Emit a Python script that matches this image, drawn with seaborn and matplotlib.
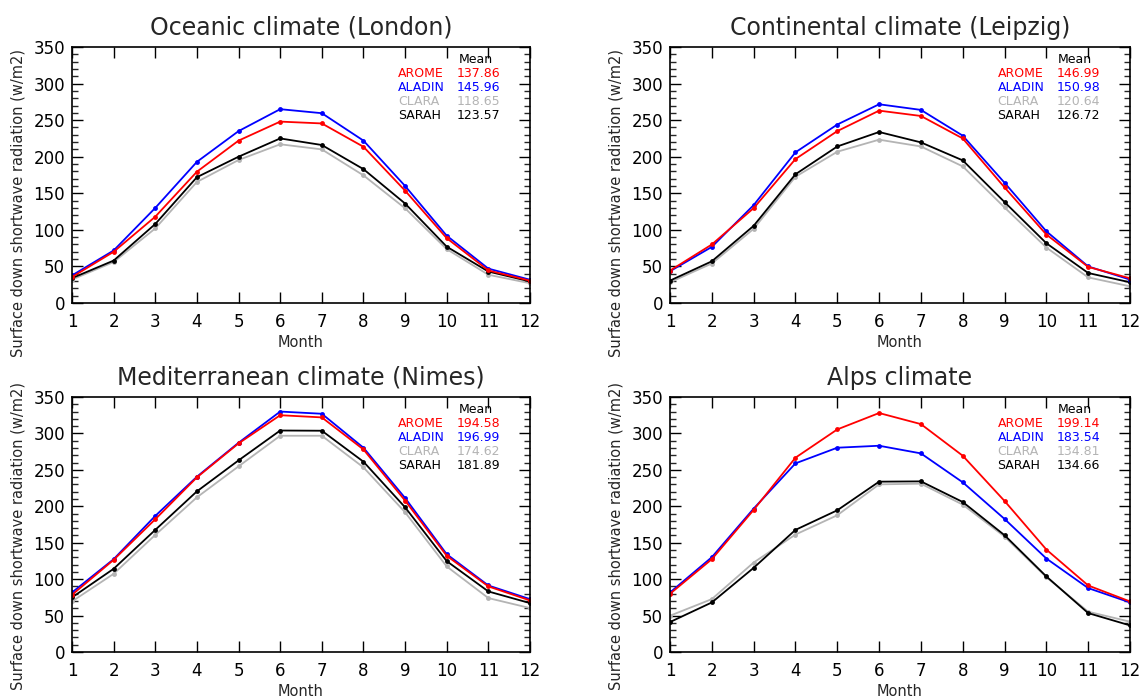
import numpy as np
import pandas as pd
import matplotlib
matplotlib.use("Agg")
import matplotlib.pyplot as plt
import seaborn as sns

months = list(range(1, 13))
models = ["AROME", "ALADIN", "CLARA", "SARAH"]
titles = ["Oceanic climate (London)", "Continental climate (Leipzig)",
          "Mediterranean climate (Nimes)", "Alps climate"]

london_arome = [35.5, 70, 118, 179.5, 222, 248, 245.5, 213.6, 153.6, 88.6, 44.5, 30.5]
london_aladin = [37.7, 71.8, 130, 193, 235, 265, 259.5, 222, 160, 92, 47, 31.8]
london_clara = [32, 56, 102, 165.5, 195.5, 217, 210, 174.5, 129.5, 73.6, 38.6, 27]
london_sarah = [34, 58, 108, 172, 200, 225, 216, 183, 136, 77, 43, 29.5]

leipzig_arome = [44.3, 80, 129.7, 196.8, 235, 263, 255.7, 225, 158, 93.6, 49.3, 33.8]
leipzig_aladin = [43.4, 76.7, 133.8, 206, 244, 271.7, 264, 228.8, 164.4, 98, 50, 32]
leipzig_clara = [28.3, 54, 101.4, 172.6, 206.8, 223.3, 214, 186.8, 130.6, 75.8, 35, 22.8]
leipzig_sarah = [30.6, 57, 105.5, 176, 214, 233.8, 219.6, 195, 138, 81.7, 41, 28.3]

nimes_arome = [78.5, 126.5, 182.2, 239.7, 286.3, 325, 322, 278, 207.8, 132, 90, 70.8]
nimes_aladin = [81.7, 127.4, 186.8, 240.6, 287.2, 330, 327, 280.4, 211.4, 134.2, 91.3, 72.6]
nimes_clara = [69.4, 107.3, 160.7, 212.3, 254.8, 296.8, 296.8, 253.4, 191.8, 117.4, 74, 60.3]
nimes_sarah = [74.9, 114.2, 167.6, 220.5, 263, 304, 303.7, 261.2, 198.6, 124.7, 83.1, 67.1]

alps_arome = [79.9, 127.4, 195, 266.7, 305.5, 328, 312.8, 269.4, 207.3, 140.6, 91.3, 69.4]
alps_aladin = [81.7, 130.1, 196.8, 258.9, 280.4, 283.1, 272.6, 232.9, 182.6, 128.3, 87.7, 68]
alps_clara = [49.8, 72.6, 122.8, 161.2, 187.7, 230.1, 231, 202.3, 158.4, 102.7, 55.3, 41.6]
alps_sarah = [41.1, 68, 115.5, 167.6, 194.5, 233.8, 234.2, 205.9, 160.3, 103.7, 53.4, 36.5]

mean_london = ["137.86", "145.96", "118.65", "123.57"]
mean_leipzig = ["146.99", "150.98", "120.64", "126.72"]
mean_nimes = ["194.58", "196.99", "174.62", "181.89"]
mean_alps = ["199.14", "183.54", "134.81", "134.66"]

panels = [
    [london_arome, london_aladin, london_clara, london_sarah],
    [leipzig_arome, leipzig_aladin, leipzig_clara, leipzig_sarah],
    [nimes_arome, nimes_aladin, nimes_clara, nimes_sarah],
    [alps_arome, alps_aladin, alps_clara, alps_sarah],
]
means = [mean_london, mean_leipzig, mean_nimes, mean_alps]

colors = {"AROME": "#ff0000", "ALADIN": "#0000ff", "CLARA": "#b4b4b4", "SARAH": "#000000"}
draw_order = ["CLARA", "SARAH", "ALADIN", "AROME"]

sns.set_style("ticks")
plt.rcParams["font.family"] = ["DejaVu Sans"]

fig = plt.figure(figsize=(11.41, 6.99), dpi=100)
W, H = 1141, 699
boxes = [(72, 47, 530, 303), (670, 47, 1130, 303),
         (72, 397, 530, 652), (670, 397, 1130, 652)]
label_y = [0.39, 0.39, 0.455, 0.455]

for i, (l, t, r, b) in enumerate(boxes):
    ax = fig.add_axes([l / W, 1 - b / H, (r - l) / W, (b - t) / H])
    rows = []
    for m, vals in zip(models, panels[i]):
        for mo, v in zip(months, vals):
            rows.append({"Month": mo, "value": v, "model": m})
    df = pd.DataFrame(rows)
    sns.lineplot(data=df, x="Month", y="value", hue="model", hue_order=draw_order,
                 palette=colors, marker="o", markersize=3.5, markeredgewidth=0,
                 linewidth=1.3, legend=False, ax=ax)
    ax.set_xlim(1, 12)
    ax.set_ylim(0, 350)
    ax.set_xticks(months)
    ax.set_yticks(range(0, 351, 50))
    ax.set_yticks(range(0, 351, 10), minor=True)
    ax.tick_params(axis="both", which="major", direction="in", length=8, width=1,
                   top=True, right=True, labelsize=12, colors="black")
    ax.tick_params(axis="x", pad=7)
    ax.tick_params(axis="y", pad=5)
    ax.tick_params(axis="y", which="minor", direction="in", length=4, width=1,
                   left=True, right=True)
    for s in ax.spines.values():
        s.set_linewidth(1.2)
        s.set_color("black")
    ax.set_xlabel("Month", fontsize=10.5, labelpad=3)
    ax.set_ylabel("Surface down shortwave radiation (w/m2)", fontsize=10.5)
    ax.yaxis.set_label_coords(-0.102, label_y[i])
    ax.set_title(titles[i], fontsize=17, pad=9)

    ys = [0.897, 0.842, 0.787, 0.732]
    ax.text(0.918, 0.952, "Mean", transform=ax.transAxes, ha="right", va="center",
            fontsize=9, color="black")
    for j, m in enumerate(models):
        ax.text(0.712, ys[j], m, transform=ax.transAxes, ha="left", va="center",
                fontsize=9, color=colors[m])
        ax.text(0.935, ys[j], means[i][j], transform=ax.transAxes, ha="right",
                va="center", fontsize=9, color=colors[m])

fig.savefig("out.png", dpi=100)
